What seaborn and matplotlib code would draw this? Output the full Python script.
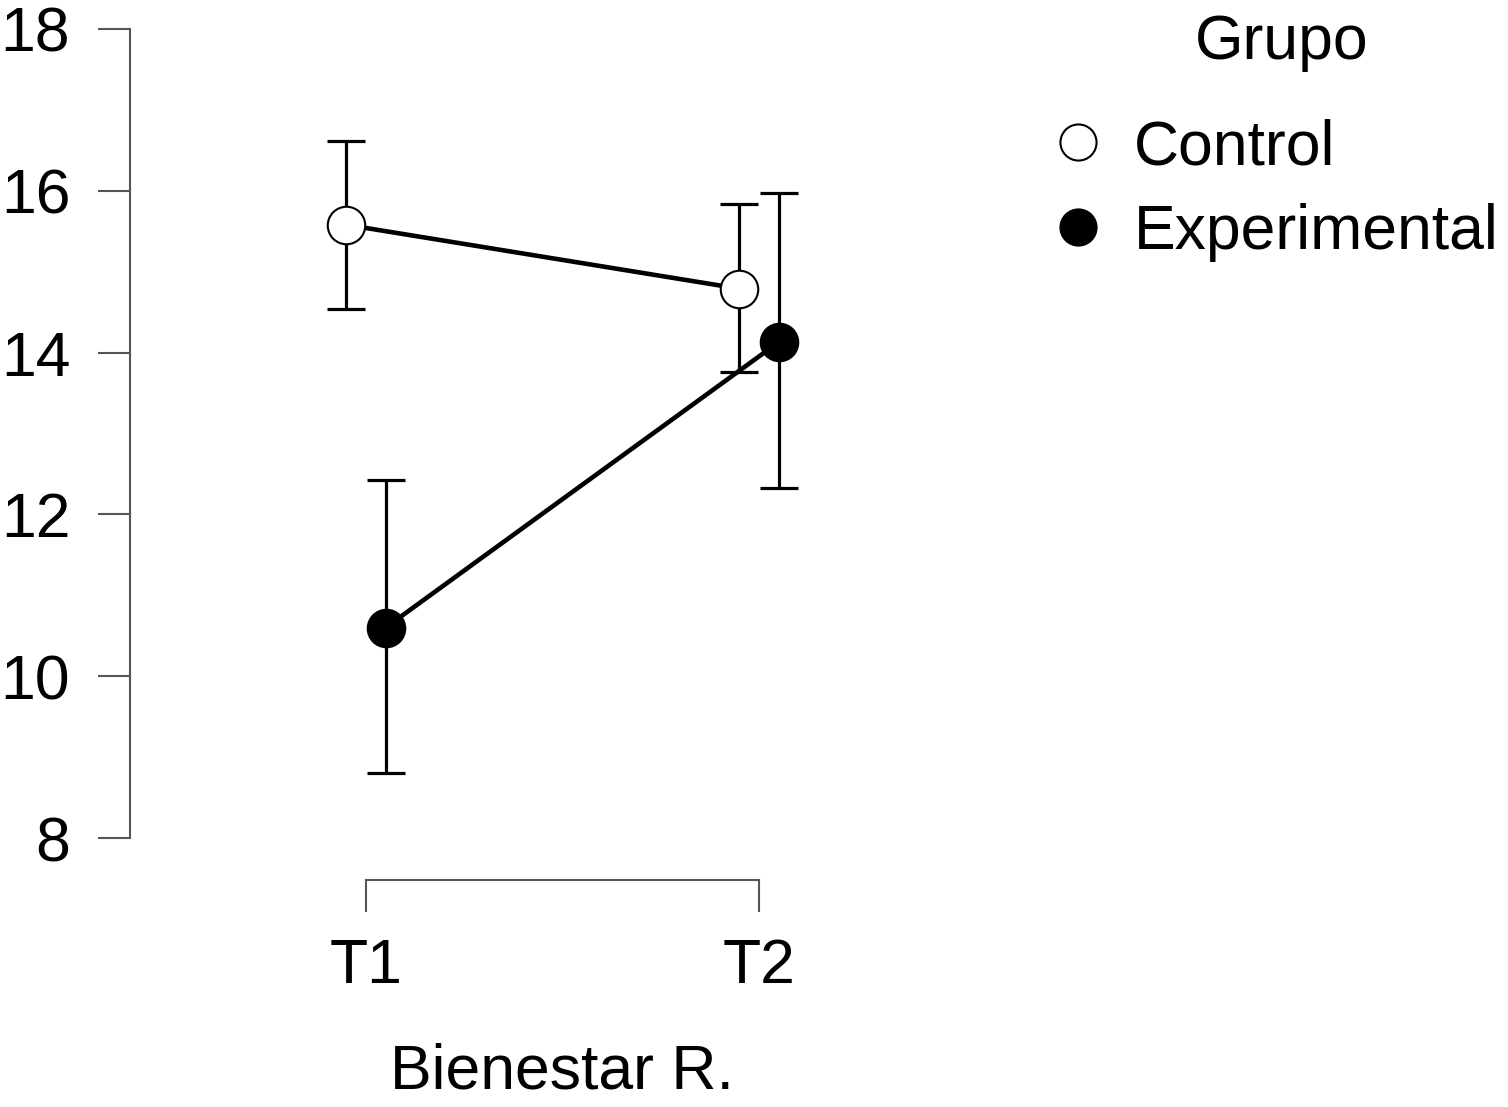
import numpy as np
import pandas as pd
import matplotlib
matplotlib.use("Agg")
import matplotlib.pyplot as plt
from matplotlib.lines import Line2D
import seaborn as sns

# ---- data ----
times = ["T1", "T2"]
groups = ["Control", "Experimental"]
control_mean = [15.58, 14.79]
control_lo = [14.54, 13.76]
control_hi = [16.62, 15.84]
exp_mean = [10.60, 14.13]
exp_lo = [8.80, 12.33]
exp_hi = [12.43, 15.97]
yticks = [8, 10, 12, 14, 16, 18]

sns.set_style("ticks")
plt.rcParams["font.family"] = ["Liberation Sans", "DejaVu Sans"]
plt.rcParams["text.color"] = "black"
plt.rcParams["axes.labelcolor"] = "black"

rows = []
for g, m, lo, hi in [("Control", control_mean, control_lo, control_hi),
                     ("Experimental", exp_mean, exp_lo, exp_hi)]:
    for i, t in enumerate(times):
        rows.append(dict(Grupo=g, Tiempo=t, idx=i, mean=m[i], lo=lo[i], hi=hi[i]))
df = pd.DataFrame(rows)

dodge = {"Control": -0.05, "Experimental": 0.05}
face = {"Control": "white", "Experimental": "black"}
df["x"] = df["idx"] + df["Grupo"].map(dodge)

W, H = 1508, 1107
fig = plt.figure(figsize=(W / 100, H / 100), dpi=100)
ax = fig.add_axes([130 / W, 1 - 838 / H, (995 - 130) / W, (838 - 29) / H])

gray = "#555555"
for g in groups:
    sub = df[df["Grupo"] == g]
    ax.errorbar(sub["x"], sub["mean"],
                yerr=[sub["mean"] - sub["lo"], sub["hi"] - sub["mean"]],
                fmt="none", ecolor="black", elinewidth=2.3, capsize=14, capthick=2.3,
                zorder=2)
for g in groups:
    sub = df[df["Grupo"] == g]
    sns.lineplot(data=sub, x="x", y="mean", ax=ax, color="black", lw=3.3,
                 marker="o", markersize=27, markerfacecolor=face[g],
                 markeredgecolor="black", markeredgewidth=1.5,
                 legend=False, zorder=3, sort=False, estimator=None)

ax.set_xlim(-0.6, 1.6)
ax.set_ylim(8, 18)
ax.set_xticks([0, 1])
ax.set_xticklabels(times)
ax.set_yticks(yticks)
ax.set_yticklabels([str(v) for v in yticks])
ax.set_xlabel("Bienestar R.", fontsize=45, labelpad=34, color="black")
ax.set_ylabel("")

for s in ["top", "right"]:
    ax.spines[s].set_visible(False)
ax.spines["left"].set_bounds(8, 18)
ax.spines["bottom"].set_bounds(0, 1)
ax.spines["bottom"].set_position(("outward", 30))
for s in ["left", "bottom"]:
    ax.spines[s].set_color(gray)
    ax.spines[s].set_linewidth(1.5)
ax.tick_params(axis="both", direction="out", length=23, width=1.5, color=gray,
               labelsize=45, labelcolor="black")
ax.tick_params(axis="y", pad=20)
ax.tick_params(axis="x", pad=18)

fig.text(1282 / W, 1 - 42 / H, "Grupo", ha="center", va="center",
         fontsize=45, color="black")
handles = [Line2D([], [], ls="none", marker="o", markersize=26,
                  markerfacecolor=face[g], markeredgecolor="black",
                  markeredgewidth=1.5) for g in groups]
leg = fig.legend(handles, groups, loc="upper left",
                 bbox_to_anchor=(1053 / W, 1 - 118 / H), frameon=False, fontsize=45,
                 handlelength=0.8, handletextpad=0.5,
                 borderpad=0, labelspacing=0.41, borderaxespad=0)
for t in leg.get_texts():
    t.set_color("black")

fig.savefig("out.png", dpi=100)
